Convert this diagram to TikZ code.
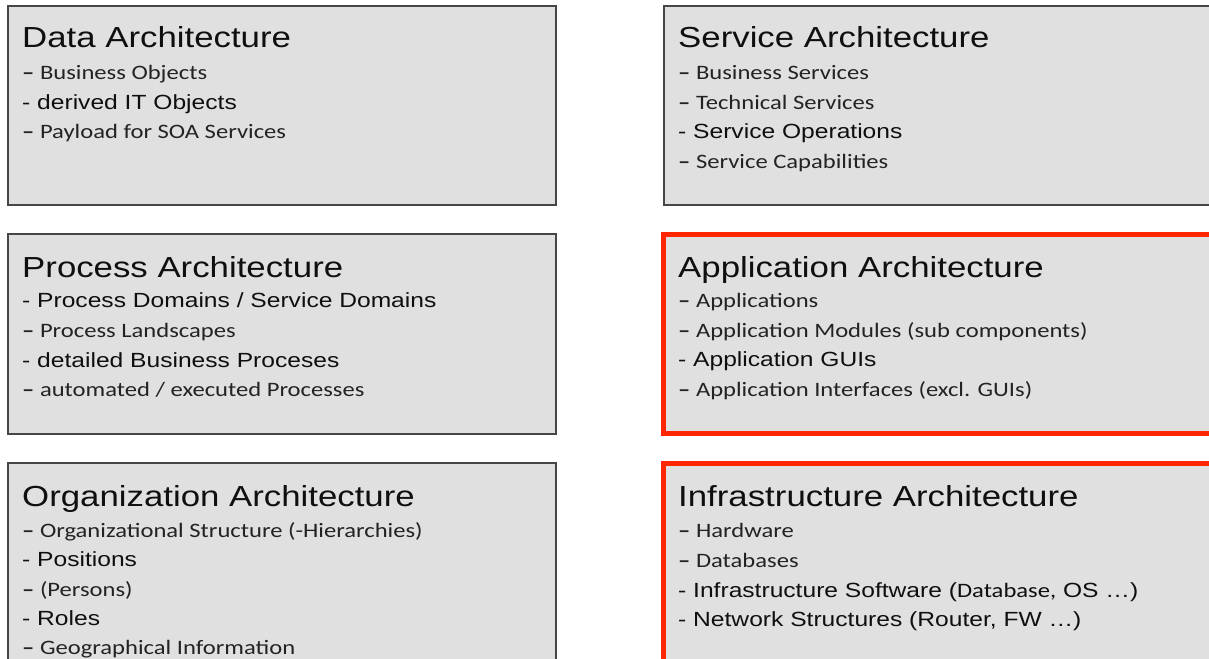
\documentclass[tikz,border=0pt]{standalone}
\usepackage{fontspec}
\newfontfamily\headfont[FakeStretch=1.2]{Liberation Sans}
\newfontfamily\arialfont[FakeStretch=1.2]{Liberation Sans}
\newfontfamily\calfont[FakeStretch=1.2]{Carlito}
\definecolor{panelfill}{RGB}{224,224,224}
\definecolor{panelline}{RGB}{70,70,70}
\definecolor{hilite}{RGB}{255,38,0}
\definecolor{inkA}{RGB}{15,15,15}
\definecolor{inkC}{RGB}{35,35,35}
\newcommand{\dashmark}{{\bfseries –}}
\tikzset{
  panel/.style={draw=panelline, line width=1.5pt, fill=panelfill, anchor=north west,
    inner sep=0pt, outer sep=0pt},
  redpanel/.style={panel, draw=hilite, line width=5pt},
  heading/.style={anchor=base west, inner sep=0pt, text=inkA, font=\headfont\fontsize{29}{34}\selectfont},
  itemA/.style={anchor=base west, inner sep=0pt, text=inkA, font=\arialfont\fontsize{20.5}{24}\selectfont},
  itemC/.style={anchor=base west, inner sep=0pt, text=inkC, font=\calfont\fontsize{20.5}{24}\selectfont},
}
\begin{document}
\begin{tikzpicture}[x=1pt,y=-1pt]
\clip (0,0) rectangle (1209,658);
\fill[white] (0,0) rectangle (1209,658);

% left column
\node[panel, minimum width=548pt, minimum height=199pt] (data) at (8,6) {};
\node[panel, minimum width=548pt, minimum height=200pt] (proc) at (8,234) {};
\node[panel, minimum width=548pt, minimum height=220pt] (org) at (8,463) {};

% right column
\node[panel, minimum width=560pt, minimum height=199pt] (serv) at (664,6) {};
\node[redpanel, minimum width=548pt, minimum height=199.5pt] (app) at (663.5,234) {};
\node[redpanel, minimum width=548pt, minimum height=220pt] (infra) at (663.5,463) {};

% Data Architecture
\node[heading] (dataT) at (22,48) {Data Architecture};
\node[itemC] (data1) at (22,80) {\dashmark{} Business Objects};
\node[itemA] (data2) at (22,110) {- derived IT Objects};
\node[itemC] (data3) at (22,139) {\dashmark{} Payload for SOA Services};

% Process Architecture
\node[heading] (procT) at (22,277) {Process Architecture};
\node[itemA] (proc1) at (22,307) {- Process Domains / Service Domains};
\node[itemC] (proc2) at (22,337) {\dashmark{} Process Landscapes};
\node[itemA] (proc3) at (22,367) {- detailed Business Proceses};
\node[itemC] (proc4) at (22,396) {\dashmark{} automated / executed Processes};

% Organization Architecture
\node[heading] (orgT) at (22,506) {Organization Architecture};
\node[itemC] (org1) at (22,537) {\dashmark{} Organizational Structure (-Hierarchies)};
\node[itemA] (org2) at (22,566) {- Positions};
\node[itemC] (org3) at (22,596) {\dashmark{} (Persons)};
\node[itemA] (org4) at (22,625) {- Roles};
\node[itemC] (org5) at (22,654) {\dashmark{} Geographical Information};

% Service Architecture
\node[heading] (servT) at (678,48) {Service Architecture};
\node[itemC] (serv1) at (678,80) {\dashmark{} Business Services};
\node[itemC] (serv2) at (678,110) {\dashmark{} Technical Services};
\node[itemA] (serv3) at (678,139) {- Service Operations};
\node[itemC] (serv4) at (678,168) {\dashmark{} Service Capabilities};

% Application Architecture
\node[heading] (appT) at (678,277) {Application Architecture};
\node[itemC] (app1) at (678,307) {\dashmark{} Applications};
\node[itemC] (app2) at (678,337) {\dashmark{} Application Modules (sub components)};
\node[itemA] (app3) at (678,366) {- Application GUIs};
\node[itemC] (app4) at (678,396) {\dashmark{} Application Interfaces (excl. GUIs)};

% Infrastructure Architecture
\node[heading] (infraT) at (678,506) {Infrastructure Architecture};
\node[itemC] (infra1) at (678,537) {\dashmark{} Hardware};
\node[itemC] (infra2) at (678,567) {\dashmark{} Databases};
\node[itemA] (infra3) at (678,597) {- Infrastructure Software ({\calfont Database,} OS …)};
\node[itemA] (infra4) at (678,626) {- Network Structures (Router, FW …)};
\end{tikzpicture}
\end{document}
